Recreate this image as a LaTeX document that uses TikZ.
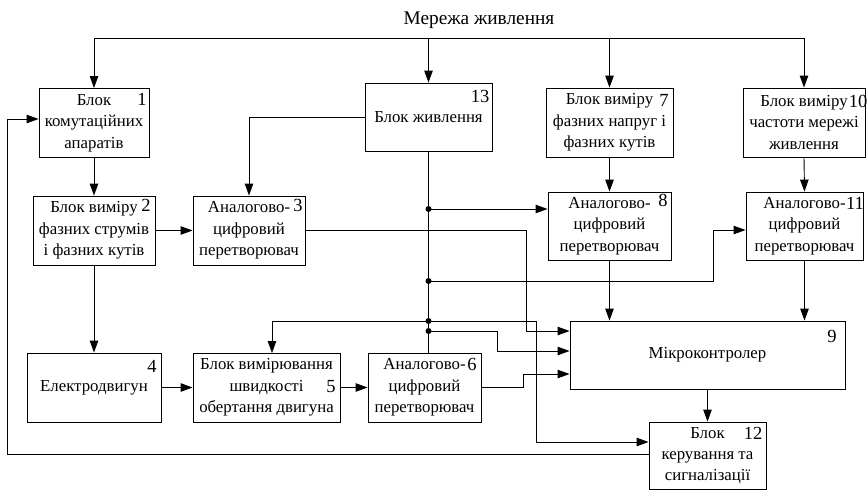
\documentclass[tikz,border=0pt]{standalone}
\usepackage{fontspec}
\setmainfont{Liberation Serif}
\usetikzlibrary{arrows.meta,calc}
\begin{document}
\begin{tikzpicture}[x=1pt,y=-1pt,
  box/.style={draw, line width=0.9pt, align=center, inner sep=0.5pt, font=\fontsize{16.8}{21.3}\selectfont},
  num/.style={inner sep=0pt, font=\fontsize{18.5}{18.5}\selectfont},
  ln/.style={line width=0.9pt},
  arr/.style={line width=0.9pt, -{Triangle[length=12pt,width=8.5pt]}}]
\useasboundingbox (0,0) rectangle (867,491);
% blocks
\node[box, minimum width=110, minimum height=69] (b1) at (94,123) {Блок\\комутаційних\\апаратів};
\node[box, minimum width=122, minimum height=69] (b2) at (94,230.5) {Блок виміру\\фазних струмів\\і фазних кутів};
\node[box, minimum width=112, minimum height=69] (b3) at (249,230.5) {Аналогово-\\цифровий\\перетворювач};
\node[box, minimum width=134, minimum height=69] (b4) at (94,387.5) {Електродвигун};
\node[box, minimum width=147, minimum height=69] (b5) at (266.5,387.5) {Блок вимірювання\\швидкості\\обертання двигуна};
\node[box, minimum width=113, minimum height=69] (b6) at (424.5,387.5) {Аналогово-\\цифровий\\перетворювач};
\node[box, minimum width=127, minimum height=68] (b13) at (428.5,117) {Блок живлення};
\node[box, minimum width=127, minimum height=69] (b7) at (609.5,122.5) {Блок виміру\\фазних напруг і\\фазних кутів};
\node[box, minimum width=123, minimum height=68] (b8) at (609.5,226) {Аналогово-\\цифровий\\перетворювач};
\node[box, minimum width=122, minimum height=69] (b10) at (804,122.5) {Блок виміру\\частоти мережі\\живлення};
\node[box, minimum width=117, minimum height=68] (b11) at (804.5,226) {Аналогово-\\цифровий\\перетворювач};
\node[box, minimum width=275, minimum height=68] (b9) at (707.5,355) {Мікроконтролер};
\node[box, minimum width=117, minimum height=67] (b12) at (707.5,455.5) {Блок\\керування та\\сигналізації};
% numbers
\node[num] (n1) at (142,99) {1};
\node[num] (n2) at (146,205) {2};
\node[num] (n3) at (298,205) {3};
\node[num] (n4) at (152,366) {4};
\node[num] (n5) at (331,387) {5};
\node[num] (n6) at (472,364) {6};
\node[num] (n7) at (664,100) {7};
\node[num] (n8) at (663,200) {8};
\node[num] (n9) at (832,336) {9};
\node[num] (n10) at (858,101) {10};
\node[num] (n11) at (855,203) {11};
\node[num] (n12) at (753,433) {12};
\node[num] (n13) at (480,96) {13};
% title
\node[inner sep=0pt, font=\fontsize{19.3}{23}\selectfont] (title) at (479,20.5) {Мережа живлення};
% bus
\coordinate (bus) at (0,38);
\draw[ln] (b1.north |- bus) -- (b10.north |- bus);
\foreach \b in {b1,b13,b7,b10} \draw[arr] (\b.north |- bus) -- (\b.north);
% simple links
\draw[arr] (b1.south) -- (b2.north);
\draw[arr] (b2.south) -- (b4.north);
\draw[arr] (b2.east) -- (b3.west);
\draw[arr] (b4.east) -- (b5.west);
\draw[arr] (b5.east) -- (b6.west);
\draw[arr] (b13.west) -| (b3.north);
\draw[arr] (b7.south) -- (b8.north);
\draw[arr] (b10.south) -- (b11.north);
\draw[arr] (b8.south) -- (b8.south |- b9.north);
\draw[arr] (b11.south) -- (b11.south |- b9.north);
\draw[arr] (b9.south) -- (b12.north);
% power distribution
\draw[ln] (b13.south) -- (b13.south |- b6.north);
\coordinate (d1) at (428.5,209);
\coordinate (d2) at (428.5,281);
\coordinate (d3) at (428.5,321);
\coordinate (d4) at (428.5,331);
\coordinate (k1) at (713,230);
\coordinate (k2) at (536,442);
\coordinate (k3) at (497,351);
\coordinate (k4) at (526,331);
\coordinate (k5) at (523,374);
\coordinate (k6) at (7,454);
\coordinate (k7) at (7,119);
\coordinate (b5in) at (272,353);
\draw[arr] (d1) -- (d1 -| b8.west);
\draw[arr] (d2) -| (k1) -- (k1 -| b11.west);
\draw[arr] (d3) -| (b5in);
\draw[arr] (d3) -| (k2) -- (k2 -| b12.west);
\draw[arr] (d4) -| (k3) -- (k3 -| b9.west);
\draw[arr] (b3.east) -| (k4) -- (k4 -| b9.west);
\draw[arr] (b6.east) -| (k5) -- (k5 -| b9.west);
\draw[arr] (k6 -| b12.west) -- (k6) -- (k7) -- (k7 -| b1.west);
\foreach \d in {d1,d2,d3,d4} \fill (\d) circle (3pt);
\end{tikzpicture}
\end{document}
